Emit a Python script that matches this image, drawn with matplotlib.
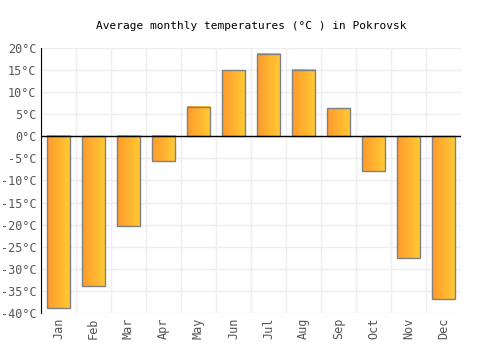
import numpy as np
import matplotlib.pyplot as plt
from matplotlib.colors import LinearSegmentedColormap

# dados
meses = ['Jan', 'Feb', 'Mar', 'Apr', 'May', 'Jun', 'Jul', 'Aug', 'Sep', 'Oct', 'Nov', 'Dec']
temps = [-39.0, -33.8, -20.4, -5.7, 6.6, 14.9, 18.6, 15.0, 6.3, -7.9, -27.6, -36.9]
yticks = list(range(-40, 25, 5))

plt.rcParams['font.family'] = ['DejaVu Sans Mono']

fig = plt.figure(figsize=(5, 3.5), dpi=100)
ax = fig.add_axes([0.082, 0.106, 0.84, 0.757])

grad = LinearSegmentedColormap.from_list('g', ['#ff9a2e', '#ffcb33'])
x = np.arange(len(meses))
barras = ax.bar(x, temps, width=0.66, facecolor='none', edgecolor='#808080', linewidth=1, zorder=3)
img = np.linspace(0, 1, 50).reshape(1, -1)
for b in barras:
    x0, y0 = b.get_x(), b.get_y()
    w, h = b.get_width(), b.get_height()
    ax.imshow(img, cmap=grad, aspect='auto', extent=[x0, x0 + w, y0, y0 + h], zorder=2)

ax.axhline(0, color='black', linewidth=1, zorder=4)
ax.set_xlim(-0.5, len(meses) - 0.5)
ax.set_ylim(-40, 20)
ax.set_yticks(yticks)
ax.set_yticklabels([f'{t}°C' for t in yticks])
ax.set_xticks(x)
ax.set_xticklabels(meses, rotation=90)
ax.set_xticks(np.arange(-0.5, len(meses), 1), minor=True)
ax.grid(which='minor', axis='x', color='#eeeeee', linewidth=1)
ax.grid(which='major', axis='y', color='#eeeeee', linewidth=1)
ax.set_axisbelow(True)
ax.tick_params(which='both', length=0, labelsize=8.5, labelcolor='#555555')
for s in ['top', 'right', 'bottom']:
    ax.spines[s].set_visible(False)
ax.spines['left'].set_color('black')
ax.set_title('Average monthly temperatures (°C ) in Pokrovsk', fontsize=8, pad=14)

plt.savefig('out.png')
